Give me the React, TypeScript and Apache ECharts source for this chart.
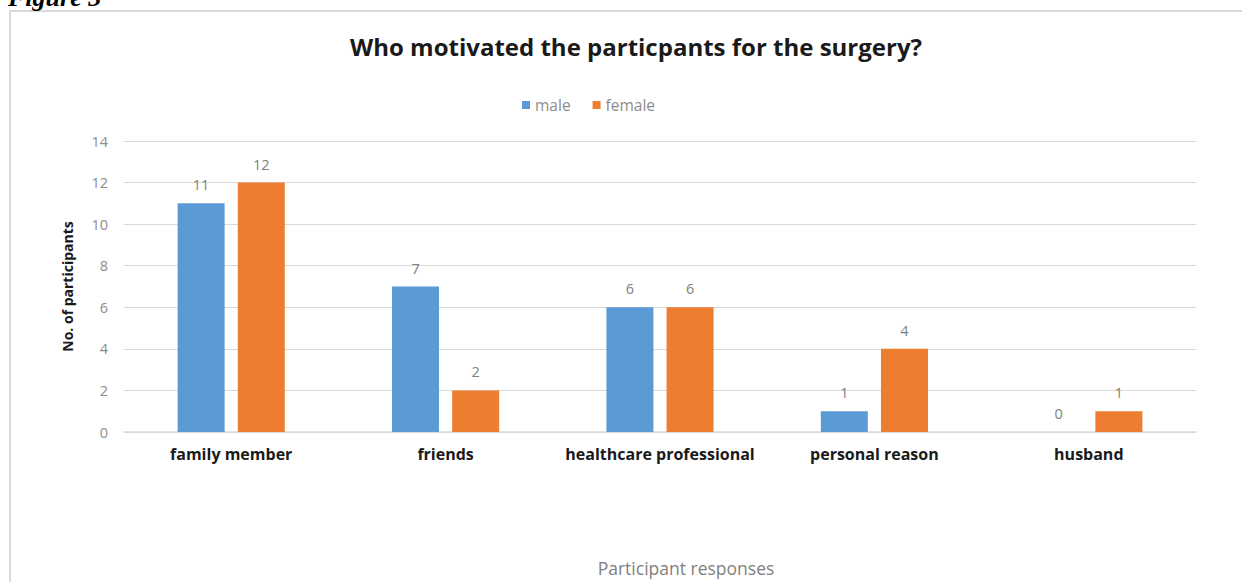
import React, { useEffect, useRef } from "react";
import * as echarts from "echarts";

const categories = ["family member", "friends", "healthcare professional", "personal reason", "husband"];
const maleValues = [11, 7, 6, 1, 0];
const femaleValues = [12, 2, 6, 4, 1];
const seriesNames = ["male", "female"];
const titleText = "Who motivated the particpants for the surgery?";
const yAxisName = "No. of participants";
const xAxisName = "Participant responses";
const figureLabel = "Figure 3";

const FONT = "'Open Sans', Lato, 'Noto Sans', sans-serif";

export default function App() {
  const ref = useRef<HTMLDivElement>(null);
  useEffect(() => {
    if (!ref.current) return;
    const chart = echarts.init(ref.current, null, { renderer: "svg" });
    chart.setOption({
      animation: false,
      backgroundColor: "#ffffff",
      textStyle: { fontFamily: FONT },
      title: {
        text: titleText,
        left: 631,
        textAlign: "center",
        top: 29,
        textStyle: { fontFamily: FONT, fontWeight: "bold", fontSize: 24, color: "#1a1a1a" },
      },
      legend: {
        data: seriesNames,
        top: 92,
        left: 517,
        itemWidth: 8,
        itemHeight: 8,
        itemGap: 22,
        icon: "rect",
        textStyle: { fontFamily: FONT, fontSize: 15.5, color: "#8c8c8c" },
      },
      graphic: [
        {
          type: "rect",
          shape: { x: 10, y: 11, width: 1240, height: 580 },
          style: { fill: "none", stroke: "#d9d9d9", lineWidth: 2 },
        },
        {
          type: "text",
          x: 8,
          y: 10,
          style: {
            text: figureLabel,
            font: "italic bold 26px 'Liberation Serif', 'DejaVu Serif', serif",
            fill: "#000000",
            textVerticalAlign: "bottom",
          },
        },
      ],
      grid: { left: 124, right: 46, top: 141, bottom: 150, containLabel: false },
      xAxis: {
        type: "category",
        data: categories,
        name: xAxisName,
        nameLocation: "middle",
        nameGap: 127,
        nameTextStyle: { fontFamily: FONT, fontSize: 17.5, color: "#7f7f7f", padding: [0, 0, 0, 52] },
        axisLine: { lineStyle: { color: "#d9d9d9", width: 1.5 } },
        axisTick: { show: false },
        axisLabel: { interval: 0, fontFamily: FONT, fontWeight: "bold", fontSize: 16, color: "#1a1a1a", margin: 14 },
      },
      yAxis: {
        type: "value",
        min: 0,
        max: 14,
        interval: 2,
        name: yAxisName,
        nameLocation: "middle",
        nameGap: 50,
        nameTextStyle: { fontFamily: FONT, fontWeight: "bold", fontSize: 14, color: "#1a1a1a" },
        axisLine: { show: false },
        axisTick: { show: false },
        axisLabel: { fontFamily: FONT, fontSize: 14.5, color: "#8c8c8c", margin: 16 },
        splitLine: { lineStyle: { color: "#d9d9d9", width: 1.2 } },
      },
      series: [
        {
          name: seriesNames[0],
          type: "bar",
          data: maleValues,
          itemStyle: { color: "#5b9bd5" },
          barWidth: 47,
          barGap: "28%",
          label: { show: true, position: "top", distance: 11, fontFamily: FONT, fontSize: 14.5, color: "#7f7f7f" },
        },
        {
          name: seriesNames[1],
          type: "bar",
          data: femaleValues,
          itemStyle: { color: "#ed7d31" },
          barWidth: 47,
          barGap: "28%",
          label: { show: true, position: "top", distance: 11, fontFamily: FONT, fontSize: 14.5, color: "#7f7f7f" },
        },
      ],
    });
    return () => chart.dispose();
  }, []);
  return (
    <div
      ref={ref}
      style={{ position: "absolute", left: 0, top: 0, width: 1242, height: 582 }}
    />
  );
}
